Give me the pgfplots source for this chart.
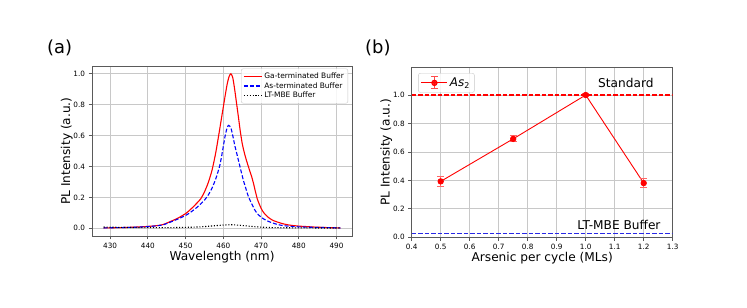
\documentclass[border=0pt]{standalone}
\usepackage{fontspec}
\setmainfont{DejaVu Sans}
\usepackage{pgfplots}
\pgfplotsset{compat=1.18}

\pgfplotstableread{
x y
428.3 0.002
430 0.003
432 0.004
434 0.005
436 0.007
438 0.009
440 0.012
442 0.016
444 0.024
446 0.044
448 0.066
450 0.095
451 0.115
452 0.138
453 0.163
454 0.19
455 0.235
456 0.295
457 0.375
458 0.49
459 0.635
460 0.785
460.5 0.86
461 0.93
461.5 0.98
462 1.0
462.5 0.975
463 0.90
463.5 0.81
464 0.72
464.5 0.627
465 0.55
465.5 0.495
466 0.45
466.5 0.41
467 0.372
467.5 0.335
468 0.29
468.5 0.238
469 0.19
469.5 0.158
470 0.13
470.5 0.108
471 0.092
472 0.069
473 0.053
474 0.043
475 0.035
476 0.028
477 0.023
478 0.019
480 0.014
482 0.011
484 0.008
486 0.006
488 0.004
491 0.002
}\gaData

\pgfplotstableread{
x y
428.3 0.002
430 0.003
434 0.005
438 0.008
440 0.011
442 0.015
444 0.022
446 0.040
447 0.050
448 0.060
450 0.083
451 0.098
452 0.116
453 0.135
454 0.158
455 0.182
456 0.215
457 0.26
458 0.32
459 0.40
459.5 0.46
460 0.53
460.5 0.60
461 0.65
461.4 0.666
462 0.65
462.5 0.60
463 0.54
463.5 0.49
464 0.44
464.5 0.39
465 0.34
465.5 0.295
466 0.255
466.5 0.215
467 0.185
467.5 0.16
468 0.135
468.5 0.112
469 0.095
470 0.072
471 0.056
472 0.044
473 0.035
474 0.027
475 0.021
476 0.017
478 0.012
480 0.009
484 0.006
488 0.004
491 0.002
}\asData

\pgfplotstableread{
x y
428.3 0.008
430 0.007
435 0.005
440 0.004
445 0.004
450 0.006
453 0.008
455 0.011
457 0.015
459 0.019
461 0.022
462 0.023
463 0.022
465 0.018
467 0.013
469 0.009
471 0.006
474 0.004
478 0.003
485 0.002
491 0.002
}\ltData

\pgfplotstableread{
x y e
0.5 0.393 0.035
0.75 0.692 0.022
1.0 1.0 0.013
1.2 0.381 0.031
}\asTwo

\pgfplotstableread{
x y
0.4 1.0
1.3 1.0
}\stdLine

\pgfplotstableread{
x y
0.4 0.028
1.3 0.028
}\ltLine

\definecolor{gridgray}{RGB}{200,200,200}
\definecolor{framegray}{RGB}{90,90,90}
\definecolor{ltblue}{RGB}{40,40,230}

\pgfplotsset{
  mystyle/.style={
    scale only axis,
    width=260bp, height=170bp,
    axis line style={framegray, line width=0.8bp},
    grid=major,
    major grid style={gridgray, line width=0.8bp},
    tick align=outside,
    tick pos=left,
    major tick length=3.5bp,
    tick style={framegray, line width=0.8bp},
    tick label style={font=\fontsize{7.3}{8}\selectfont},
    label style={font=\fontsize{12.2}{14}\selectfont},
    xlabel style={at={(axis description cs:0.5,0)}, anchor=base, yshift=-24.6bp},
    ylabel style={at={([xshift=-22bp]axis description cs:0,0.5)}, anchor=base},
    /pgf/number format/assume math mode=true,
    yticklabel style={/pgf/number format/.cd, fixed, fixed zerofill, precision=1},
  }
}

\begin{document}
\begin{tikzpicture}
\path[use as bounding box] (0,0) rectangle (747bp,308bp);

\node[anchor=base west, font=\fontsize{18}{20}\selectfont, inner sep=0pt] at (47bp,254bp) {(a)};
\node[anchor=base west, font=\fontsize{18}{20}\selectfont, inner sep=0pt] at (365bp,254bp) {(b)};

\begin{axis}[mystyle,
  at={(92bp,72bp)}, anchor=south west,
  xmin=425.2, xmax=494.1, ymin=-0.05, ymax=1.05,
  xtick={430,440,...,490},
  ytick={0,0.2,...,1.0},
  xticklabel style={/pgf/number format/.cd, fixed, precision=0, 1000 sep={}},
  xlabel={Wavelength (nm)},
  ylabel={PL Intensity (a.u.)},
  legend style={at={(0.985,0.985)}, anchor=north east, draw=gridgray, fill=white, fill opacity=0.85, text opacity=1, rounded corners=2bp, font=\fontsize{7.5}{9}\selectfont, row sep=-1.5bp, inner sep=2bp},
  legend cell align=left,
  legend image code/.code={\draw[#1] (0bp,0bp) -- (18bp,0bp);},
]
\addplot[red, line width=1.1bp, smooth, tension=0.4] table[x=x,y=y] {\gaData};
\addlegendentry{Ga-terminated Buffer}
\addplot[blue, line width=1.1bp, dash pattern=on 4bp off 2bp, smooth, tension=0.4] table[x=x,y=y] {\asData};
\addlegendentry{As-terminated Buffer}
\addplot[black, line width=1.1bp, dash pattern=on 1.1bp off 1.8bp, smooth, tension=0.4] table[x=x,y=y] {\ltData};
\addlegendentry{LT-MBE Buffer}
\end{axis}

\begin{axis}[mystyle,
  at={(411.7bp,70.7bp)}, anchor=south west,
  width=261bp,
  xmin=0.4, xmax=1.3, ymin=0, ymax=1.195,
  xtick={0.4,0.5,...,1.3},
  ytick={0,0.2,...,1.0},
  xticklabel style={/pgf/number format/.cd, fixed, fixed zerofill, precision=1},
  xlabel={Arsenic per cycle (MLs)},
  ylabel={PL Intensity (a.u.)},
  legend style={at={(0.025,0.966)}, anchor=north west, draw=gridgray, fill=white, fill opacity=0.85, text opacity=1, rounded corners=2bp, font=\fontsize{12}{14}\selectfont, inner sep=2.5bp},
  legend image code/.code={
    \draw[red, line width=1bp] (0bp,0bp) -- (26bp,0bp);
    \draw[red!70, line width=1bp] (13bp,-6bp) -- (13bp,6bp);
    \draw[red!70, line width=1bp] (9.7bp,6bp) -- (16.3bp,6bp);
    \draw[red!70, line width=1bp] (9.7bp,-6bp) -- (16.3bp,-6bp);
    \fill[red] (13bp,0bp) circle (2.7bp);
  },
]
\addplot[red, no markers, dash pattern=on 4.5bp off 2bp, line width=1.1bp, forget plot] table[x=x,y=y] {\stdLine};
\addplot[ltblue, no markers, dash pattern=on 4.5bp off 2bp, line width=1.4bp, forget plot] table[x=x,y=y] {\ltLine};
\addplot[red, line width=0.9bp, mark=*, mark size=2.7bp, mark options={fill=red, draw=red},
  error bars/.cd, y dir=both, y explicit,
  error bar style={red!60, line width=1bp},
  error mark options={rotate=90, red!60, mark size=3.3bp, line width=1bp}]
  table[x=x, y=y, y error=e] {\asTwo};
\addlegendentry{\textit{As}\textsubscript{2}}
\node[anchor=east, font=\fontsize{12.2}{14}\selectfont] at (axis cs:1.246,1.085) {Standard};
\node[anchor=east, font=\fontsize{12.2}{14}\selectfont] at (axis cs:1.27,0.09) {LT-MBE Buffer};
\end{axis}
\end{tikzpicture}
\end{document}
